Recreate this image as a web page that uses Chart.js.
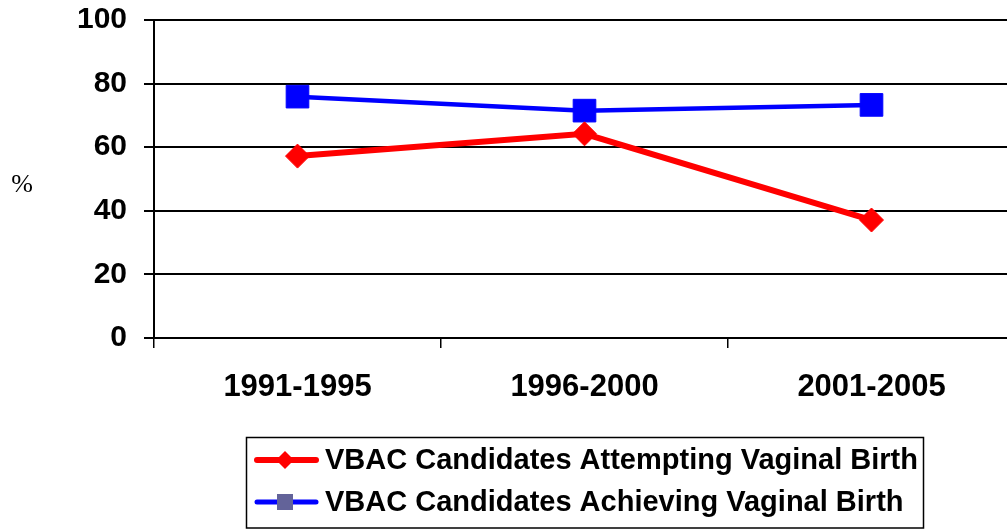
<!DOCTYPE html>
<html><head><meta charset="utf-8">
<script src="https://cdn.jsdelivr.net/npm/chart.js@4"></script>
<style>html,body{margin:0;padding:0;background:#fff;overflow:hidden}
#wrap{width:1007px;height:529px;overflow:hidden;position:relative;background:#fff}
#c{position:absolute;left:0;top:0}
</style></head><body><div id="wrap"><canvas id="c" width="1022" height="529" style="width:1022px;height:529px"></canvas></div>
<script>
const categories = ['1991-1995', '1996-2000', '2001-2005'];
const attemptingValues = [57.2, 64.2, 37.1];
const achievingValues = [75.9, 71.5, 73.3];
const seriesLabels = ['VBAC Candidates Attempting Vaginal Birth', 'VBAC Candidates Achieving Vaginal Birth'];
const yTickValues = [0, 20, 40, 60, 80, 100];
const yAxisLabel = '%';

const FONT = '"Liberation Sans", Arial, sans-serif';

const extrasPlugin = {
  id: 'extras',
  afterDraw(chart) {
    const ctx = chart.ctx;
    ctx.save();
    // y axis label
    ctx.fillStyle = '#000';
    ctx.font = '26px "Liberation Serif", "Times New Roman", serif';
    ctx.textAlign = 'center';
    ctx.textBaseline = 'middle';
    ctx.fillText(yAxisLabel, 22, 185);
    // legend box
    ctx.strokeStyle = '#000';
    ctx.lineWidth = 1.5;
    ctx.strokeRect(246.5, 437.5, 677, 90.5);
    const rows = [460, 502];
    chart.data.datasets.forEach((ds, i) => {
      const y = rows[i];
      ctx.strokeStyle = ds.borderColor;
      ctx.lineWidth = i === 0 ? 6 : 5;
      ctx.lineCap = 'round';
      ctx.beginPath();
      ctx.moveTo(257, y);
      ctx.lineTo(316, y);
      ctx.stroke();
      const cx = 285;
      if (ds.pointStyle === 'rectRot') {
        ctx.fillStyle = ds.pointBackgroundColor;
        const r = 9;
        ctx.beginPath();
        ctx.moveTo(cx - r, y); ctx.lineTo(cx, y - r); ctx.lineTo(cx + r, y); ctx.lineTo(cx, y + r);
        ctx.closePath();
        ctx.fill();
      } else {
        ctx.fillStyle = '#636399';
        ctx.fillRect(cx - 8, y - 8, 16, 16);
      }
      ctx.fillStyle = '#000';
      ctx.font = 'bold 29px ' + FONT;
      ctx.textAlign = 'left';
      ctx.textBaseline = 'middle';
      ctx.fillText(ds.label, 325, y + 1);
    });
    ctx.restore();
  }
};

new Chart(document.getElementById('c'), {
  type: 'line',
  data: {
    labels: categories,
    datasets: [
      {
        label: seriesLabels[0],
        data: attemptingValues,
        borderColor: '#FF0000',
        backgroundColor: '#FF0000',
        pointBackgroundColor: '#FF0000',
        pointBorderColor: '#FF0000',
        borderWidth: 6,
        pointStyle: 'rectRot',
        pointRadius: 12,
        pointBorderWidth: 1,
        tension: 0
      },
      {
        label: seriesLabels[1],
        data: achievingValues,
        borderColor: '#0000FF',
        backgroundColor: '#0000FF',
        pointBackgroundColor: '#0000FF',
        pointBorderColor: '#0000FF',
        borderWidth: 4.5,
        pointStyle: 'rect',
        pointRadius: 16,
        pointBorderWidth: 1,
        tension: 0
      }
    ]
  },
  options: {
    responsive: false,
    animation: false,
    devicePixelRatio: 1,
    layout: { autoPadding: false, padding: { left: 0, right: 7, top: 20, bottom: 0 } },
    plugins: { legend: { display: false }, tooltip: { enabled: false } },
    scales: {
      x: {
        offset: true,
        grid: { display: true, offset: true, drawOnChartArea: false, drawTicks: true, tickLength: 10, color: '#000', lineWidth: 1.5 },
        border: { display: true, color: '#000', width: 2 },
        ticks: { color: '#000', font: { family: FONT, size: 31, weight: 'bold' }, padding: 21, maxRotation: 0 },
        afterFit(s) { s.height = 191; s.paddingLeft = 0; s.paddingRight = 0; }
      },
      y: {
        min: 0, max: 100,
        afterBuildTicks(s) { s.ticks = yTickValues.map(v => ({ value: v })); },
        grid: { color: '#000', lineWidth: 2, tickLength: 10, drawTicks: true },
        border: { display: true, color: '#000', width: 2 },
        ticks: { color: '#000', font: { family: FONT, size: 30, weight: 'bold' }, padding: 17 },
        afterFit(s) { s.width = 154; s.paddingTop = 0; s.paddingBottom = 0; }
      }
    }
  },
  plugins: [extrasPlugin]
});
</script></body></html>
